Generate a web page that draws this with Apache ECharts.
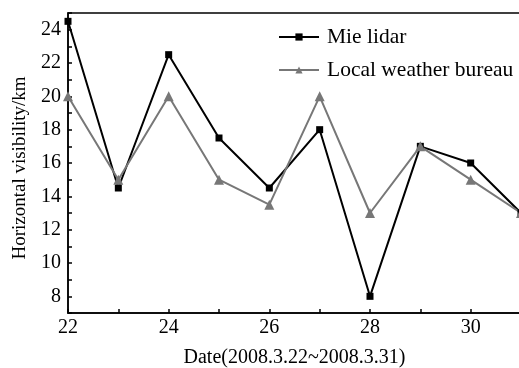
<!DOCTYPE html>
<html>
<head>
<meta charset="utf-8">
<script src="https://cdn.jsdelivr.net/npm/echarts@6/dist/echarts.min.js"></script>
<style>html,body{margin:0;padding:0;background:#fff;overflow:hidden}#c{width:519px;height:368px}</style>
</head>
<body>
<div id="c"></div>
<script>
const days = [22, 23, 24, 25, 26, 27, 28, 29, 30, 31];
const mieLidar = [24.5, 14.5, 22.5, 17.5, 14.5, 18, 8, 17, 16, 13];
const weatherBureau = [20, 15, 20, 15, 13.5, 20, 13, 17, 15, 13];
const seriesNames = ['Mie lidar', 'Local weather bureau'];
const xTitle = 'Date(2008.3.22~2008.3.31)';
const yTitle = 'Horizontal visibility/km';

const font = 'Liberation Serif';
const chart = echarts.init(document.getElementById('c'));
const pairs = arr => days.map((d, i) => [d, arr[i]]);
chart.setOption({
  backgroundColor: '#fff',
  animation: false,
  grid: {left: 68, top: 13, height: 300, width: 453, outerBoundsMode: 'none', containLabel: false,
    show: true, borderColor: '#000', borderWidth: 1.5, backgroundColor: 'transparent'},
  legend: {
    orient: 'vertical', left: 273, top: 21, itemWidth: 40, itemHeight: 9, itemGap: 11,
    textStyle: {fontFamily: font, fontSize: 21.5, color: '#000', padding: [0, 0, 0, 3]},
    data: seriesNames
  },
  xAxis: {
    type: 'value', min: 22, max: 31, interval: 1,
    name: xTitle, nameLocation: 'middle', nameGap: 35,
    nameTextStyle: {fontFamily: font, fontSize: 20, color: '#000'},
    axisLine: {lineStyle: {color: '#000', width: 1.5}},
    axisTick: {inside: true, length: 4, lineStyle: {color: '#000', width: 1.5}},
    axisLabel: {fontFamily: font, fontSize: 20, color: '#000', margin: 5,
      formatter: v => (v % 2 === 0 ? String(v) : '')},
    splitLine: {show: false}
  },
  yAxis: {
    type: 'value', min: 7, max: 25, interval: 1,
    axisLine: {lineStyle: {color: '#000', width: 1.5}},
    axisTick: {inside: true, length: 4, lineStyle: {color: '#000', width: 1.5}},
    axisLabel: {fontFamily: font, fontSize: 20, color: '#000', margin: 7,
      formatter: v => (v % 2 === 0 ? String(v) : '')},
    splitLine: {show: false}
  },
  graphic: [{
    type: 'text', x: 20, y: 168, rotation: Math.PI / 2,
    style: {text: yTitle, font: '19px "Liberation Serif"', fill: '#000', align: 'center', verticalAlign: 'middle'}
  }],
  series: [
    {name: seriesNames[0], type: 'line', data: pairs(mieLidar), color: '#000',
      symbol: 'rect', symbolSize: 7, lineStyle: {width: 2, color: '#000'}, itemStyle: {color: '#000'}},
    {name: seriesNames[1], type: 'line', data: pairs(weatherBureau), color: '#777',
      symbol: 'triangle', symbolSize: 10, lineStyle: {width: 2, color: '#777'}, itemStyle: {color: '#777'}}
  ]
});
</script>
</body>
</html>
